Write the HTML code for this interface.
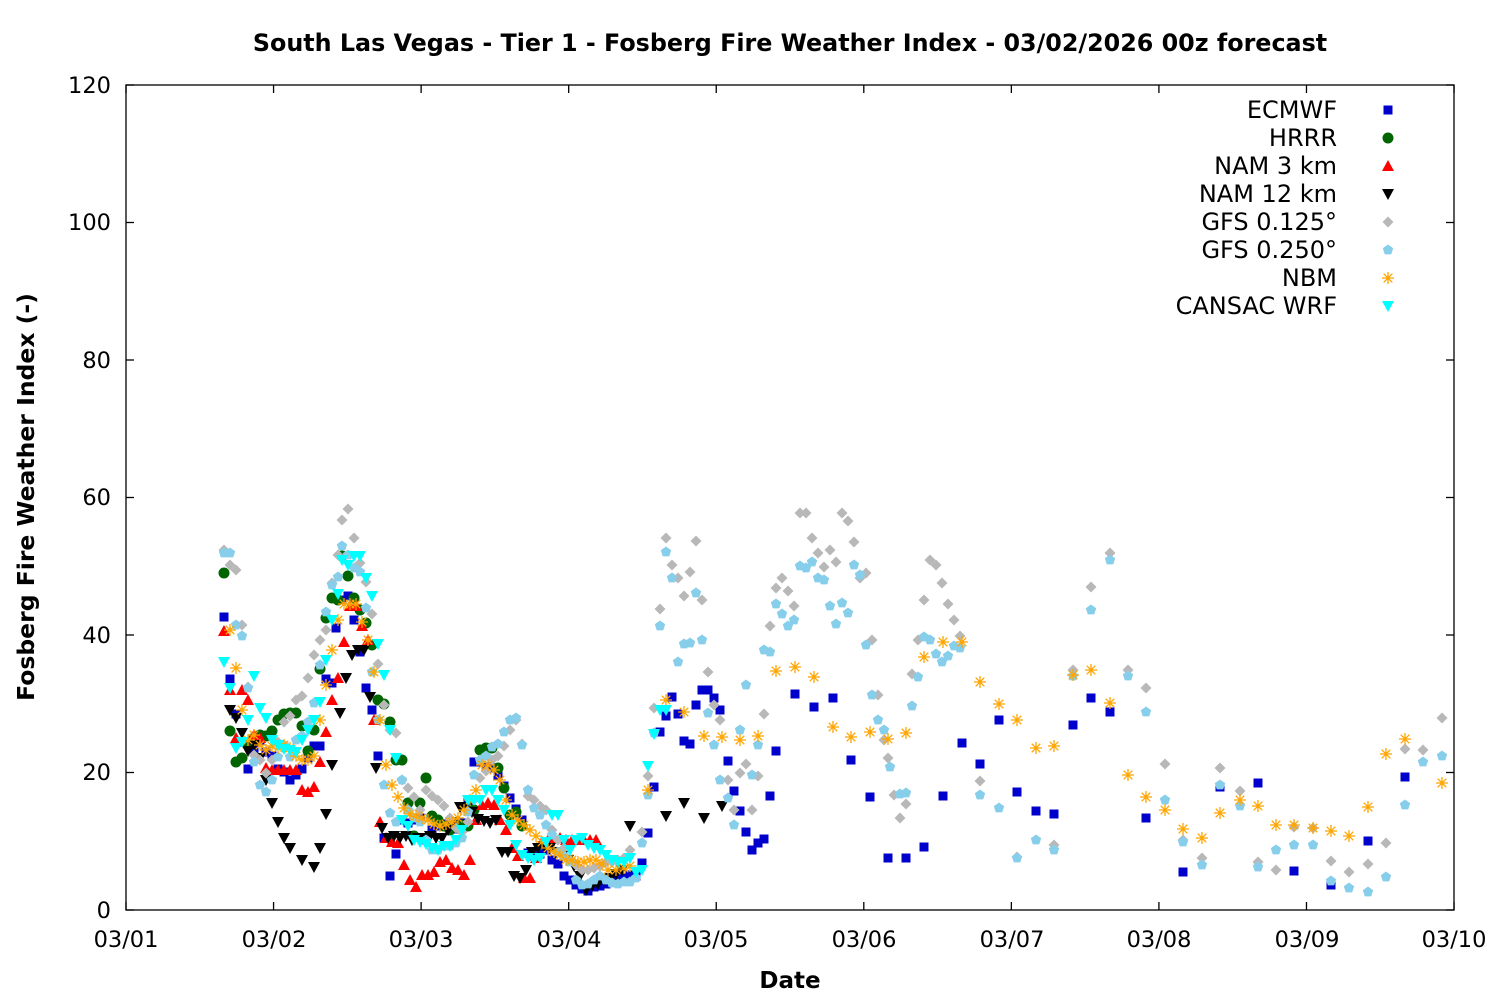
<!DOCTYPE html>
<html><head><meta charset="utf-8"><style>
html,body{margin:0;padding:0;background:#fff}
svg{display:block;font-family:"DejaVu Sans","Liberation Sans",sans-serif}
</style></head><body>
<svg id="s" width="1500" height="1000" xmlns="http://www.w3.org/2000/svg">
<rect width="1500" height="1000" fill="#fff"/>
<text x="790" y="51" text-anchor="middle" font-size="23.8" font-weight="bold">South Las Vegas - Tier 1 - Fosberg Fire Weather Index - 03/02/2026 00z forecast</text>
<g font-size="22.5" text-anchor="end">
<text x="111" y="918">0</text><text x="111" y="780">20</text><text x="111" y="643">40</text><text x="111" y="505">60</text><text x="111" y="368">80</text><text x="111" y="230">100</text><text x="111" y="93">120</text>
</g>
<g font-size="22.5" text-anchor="middle">
<text x="126" y="947">03/01</text><text x="274" y="947">03/02</text><text x="421" y="947">03/03</text><text x="569" y="947">03/04</text><text x="716" y="947">03/05</text><text x="864" y="947">03/06</text><text x="1012" y="947">03/07</text><text x="1159" y="947">03/08</text><text x="1307" y="947">03/09</text><text x="1454" y="947">03/10</text>
</g>
<text x="790" y="988" text-anchor="middle" font-size="23" font-weight="bold">Date</text>
<text transform="translate(34,497) rotate(-90)" text-anchor="middle" font-size="23.5" font-weight="bold">Fosberg Fire Weather Index (-)</text>
<g font-size="24" text-anchor="end">
<text x="1337" y="118">ECMWF</text><text x="1337" y="146">HRRR</text><text x="1337" y="174">NAM 3 km</text><text x="1337" y="202">NAM 12 km</text><text x="1337" y="230">GFS 0.125°</text><text x="1337" y="258">GFS 0.250°</text><text x="1337" y="286">NBM</text><text x="1337" y="314">CANSAC WRF</text>
</g>
<g id="pts"></g>
<g id="ax" stroke="#000" stroke-width="1.3" fill="none"></g>
</svg>
<script>
var NS="http://www.w3.org/2000/svg",g=document.getElementById('pts'),ax=document.getElementById('ax');
function el(t,a,p){var e=document.createElementNS(NS,t);for(var k in a)e.setAttribute(k,a[k]);(p||g).appendChild(e);return e;}
el('rect',{x:126,y:85,width:1328,height:825},ax);
for(var i=0;i<=6;i++){var y=910-i*137.5;el('line',{x1:126,y1:y,x2:134,y2:y},ax);el('line',{x1:1454,y1:y,x2:1446,y2:y},ax);}
for(var i=0;i<=9;i++){var x=126+i*147.56;el('line',{x1:x,y1:910,x2:x,y2:902},ax);el('line',{x1:x,y1:85,x2:x,y2:93},ax);}
function mk(type,c,x,y){
 if(type=='sq')el('rect',{x:x-4.5,y:y-4.5,width:9,height:9,fill:c});
 else if(type=='ci')el('circle',{cx:x,cy:y,r:5.5,fill:c});
 else if(type=='pe'){var p=[];for(var k=0;k<5;k++){var a=-Math.PI/2+k*2*Math.PI/5;p.push((x+5.5*Math.cos(a)).toFixed(1)+','+(y+5.5*Math.sin(a)).toFixed(1));}el('polygon',{points:p.join(' '),fill:c});}
 else if(type=='tu')el('polygon',{points:(x-6)+','+(y+5)+' '+(x+6)+','+(y+5)+' '+x+','+(y-6),fill:c});
 else if(type=='td')el('polygon',{points:(x-6)+','+(y-5)+' '+(x+6)+','+(y-5)+' '+x+','+(y+6),fill:c});
 else if(type=='di')el('polygon',{points:(x-5.5)+','+y+' '+x+','+(y-5.5)+' '+(x+5.5)+','+y+' '+x+','+(y+5.5),fill:c});
 else if(type=='st'){var s=6;el('path',{d:'M'+(x-s)+' '+y+'H'+(x+s)+'M'+x+' '+(y-s)+'V'+(y+s)+'M'+(x-4.3)+' '+(y-4.3)+'L'+(x+4.3)+' '+(y+4.3)+'M'+(x-4.3)+' '+(y+4.3)+'L'+(x+4.3)+' '+(y-4.3),stroke:c,'stroke-width':1.3,fill:'none'});}
}
function P(s){var a=s.split(/\s+/).filter(Boolean).map(Number),r=[];for(var i=0;i<a.length;i+=2)r.push([a[i],a[i+1]]);return r;}
var gfs1=P("224 550 230 565 236 570 242 625 248 687 254 755 260 760 266 773 272 760 278 742 284 722 290 716 296 700 302 696 308 678 314 655 320 640 326 630 332 583 338 555 342 520 348 509 354 538 360 563 366 582 372 614 378 664 384 705 390 730 396 733 402 780 408 788 414 797 420 810 426 790 432 796 438 800 444 806 450 818 456 828 462 832 468 822 474 800 480 778 486 771 492 760 498 756 504 746 510 730 516 720 522 744 528 796 534 800 540 806 546 810 552 830 558 840 564 848 570 860 576 865 582 870 588 870 594 868 600 866 606 862 612 862 618 860 624 858 630 850 642 832 648 776 654 708 660 609 666 538 672 565 678 578 684 596 690 572 696 541 702 600 708 672 714 705 720 720 728 780 734 810 740 773 746 764 752 810 758 776 764 714 770 626 776 588 782 578 788 591 794 606 800 513 806 513 812 538 818 553 824 567 830 550 836 562 842 513 848 521 854 542 860 578 866 573 872 640 878 695 884 740 888 758 894 795 900 818 906 804 912 674 918 640 924 600 930 560 936 565 942 583 948 604 954 620 960 636 980 781 1017 857 1054 845 1073 670 1091 587 1110 553 1128 670 1146 688 1165 764 1183 840 1202 858 1220 768 1240 791 1258 862 1276 870 1294 827 1313 828 1331 861 1349 872 1368 864 1386 843 1405 749 1423 750 1442 718");
var gfs2=P("224 553 230 553 236 625 242 636 248 688 254 762 260 785 266 792 272 780 278 757 284 745 290 757 296 740 302 736 308 722 314 703 320 665 326 612 332 585 338 577 342 546 348 555 354 568 360 572 366 608 372 672 378 720 384 785 390 813 396 822 402 780 408 810 414 818 420 822 426 840 432 850 438 850 444 846 450 846 456 843 462 838 468 812 474 775 480 760 486 756 492 747 498 744 504 732 510 720 516 718 522 745 528 790 534 808 540 815 546 825 552 835 558 852 564 856 570 862 576 880 582 885 588 884 594 880 600 876 606 880 612 883 618 884 624 882 630 882 636 878 642 843 648 795 654 733 660 626 666 552 672 578 678 662 684 644 690 643 696 593 702 640 708 713 714 745 720 780 728 798 734 825 740 730 746 685 752 775 758 745 764 650 770 652 776 604 782 614 788 626 794 620 800 566 806 568 812 562 818 578 824 580 830 606 836 624 842 603 848 613 854 565 860 575 866 645 872 695 878 720 884 730 890 767 900 794 906 793 912 706 918 677 924 637 930 640 936 654 942 662 948 656 954 646 960 648 980 795 999 808 1017 858 1036 840 1054 850 1073 676 1091 610 1110 560 1128 676 1146 712 1165 800 1183 842 1202 865 1220 785 1240 806 1258 867 1276 850 1294 845 1313 845 1331 881 1349 888 1368 892 1386 877 1405 805 1423 762 1442 756");
var ec=P("224 617 230 679 236 714 242 742 248 769 254 750 260 741 266 752 272 756 278 769 284 772 290 780 296 775 302 769 308 758 314 746 320 746 326 679 332 683 336 628 342 600 348 596 354 620 360 652 366 688 372 710 378 756 384 838 390 876 396 854 402 820 408 823 414 820 420 818 426 840 432 830 438 826 444 824 450 826 456 829 462 823 468 802 474 762 480 762 486 767 492 768 498 776 504 786 510 798 516 809 522 820 528 853 534 856 540 854 546 850 552 860 558 864 564 876 570 880 576 885 582 889 588 891 594 887 600 886 606 884 612 880 618 876 624 878 630 875 636 876 642 863 648 833 654 787 660 732 666 716 672 697 678 714 684 741 690 744 696 705 702 690 708 690 714 698 720 710 728 761 734 791 740 811 746 832 752 850 758 843 764 839 770 796 776 751 795 694 814 707 833 698 851 760 870 797 888 858 906 858 924 847 943 796 962 743 980 764 999 720 1017 792 1036 811 1054 814 1073 725 1091 698 1110 712 1146 818 1183 872 1220 787 1258 783 1294 871 1331 885 1368 841 1405 777");
var hr=P("224 573 230 731 236 762 242 758 248 745 254 738 260 735 266 736 272 731 278 720 284 714 290 713 296 713 302 726 308 751 314 730 320 669 326 618 332 598 338 600 342 556 348 576 354 598 360 610 366 623 372 645 378 700 384 704 390 722 396 760 402 760 408 803 414 836 420 803 426 778 432 816 438 820 444 826 450 830 456 825 462 825 468 826 474 810 480 750 486 748 492 748 498 768 504 788 510 815 516 812 522 826");
var n3=P("224 631 230 690 236 738 242 690 248 700 254 735 260 738 266 768 272 770 278 770 284 770 290 770 296 770 302 790 308 792 314 787 320 762 326 732 332 700 338 678 344 642 350 606 356 606 362 626 368 640 374 720 380 822 386 838 392 842 398 843 404 865 410 880 416 887 422 875 428 875 434 872 440 862 446 860 452 868 458 870 464 875 470 860 476 820 482 805 488 803 494 805 500 820 506 830 512 848 518 856 524 878 530 878 536 858 542 842 548 840 554 838 560 838 566 840 572 840 578 840 584 840 590 840 596 840");
var n12=P("230 710 236 718 242 733 248 751 254 745 260 758 266 780 272 803 278 822 284 838 290 848 302 860 314 867 320 848 326 814 332 765 340 713 346 678 352 655 358 650 364 650 370 697 376 768 382 828 388 838 394 836 400 838 406 836 412 840 418 838 424 838 430 836 436 838 442 838 448 830 454 822 460 807 466 807 472 812 478 819 484 821 490 823 496 820 502 852 508 852 514 876 520 878 526 870 532 852 538 848 544 846 550 848 556 852 562 856 568 860 574 866 580 876 586 890 592 886 598 884 604 880 610 878 616 874 622 870 630 826 666 816 684 803 704 818 722 806");
var nbm=P("230 630 236 668 242 710 248 740 254 735 260 745 266 750 272 746 278 748 284 745 290 748 296 756 302 760 308 760 314 756 320 720 326 685 332 650 338 620 344 604 350 604 356 604 362 622 368 640 374 672 380 720 386 765 392 785 398 797 404 808 410 814 416 816 422 818 428 820 434 824 440 826 446 824 452 822 458 818 464 810 470 800 476 790 482 765 488 765 494 770 500 780 506 800 512 815 518 820 524 825 530 830 536 836 542 842 548 848 554 852 560 855 566 860 572 860 578 862 584 862 590 860 596 860 602 864 608 870 616 870 624 868 630 866 648 790 666 700 684 712 704 736 722 737 740 740 758 736 776 671 795 667 814 677 833 727 851 737 870 732 888 739 906 733 924 657 943 642 962 642 980 682 999 704 1017 720 1036 748 1054 746 1073 675 1091 670 1110 703 1128 775 1146 797 1165 810 1183 829 1202 838 1220 813 1240 800 1258 806 1276 825 1294 825 1313 828 1331 831 1349 836 1368 807 1386 754 1405 739 1442 783");
var cs=P("224 662 230 688 236 748 242 742 248 720 254 676 260 708 266 718 272 740 278 745 284 749 290 750 296 752 302 740 308 730 314 720 320 702 326 660 332 620 338 594 342 560 348 565 354 556 360 556 366 578 372 596 378 644 384 675 390 730 396 758 402 820 408 826 414 840 420 842 426 844 432 848 438 850 444 846 450 846 456 840 462 830 468 800 474 800 480 800 486 790 492 790 498 800 504 810 510 825 516 845 522 855 528 858 534 860 540 858 546 842 552 815 558 815 564 840 570 850 576 840 582 838 588 845 594 848 600 850 606 855 612 860 618 862 624 862 630 858 636 872 642 870 648 766 654 734 660 710 666 710");
var S=[[ec,'sq','#0000cc'],[hr,'ci','#006400'],[n3,'tu','#ff0000'],[n12,'td','#000000'],[gfs1,'di','#b8b8b8'],[gfs2,'pe','#87ceeb'],[nbm,'st','#ffa500'],[cs,'td','#00ffff']];
S.forEach(function(s,i){s[0].forEach(function(p){mk(s[1],s[2],p[0],p[1]);});mk(s[1],s[2],1388,110+28*i);});
</script>
</body></html>
